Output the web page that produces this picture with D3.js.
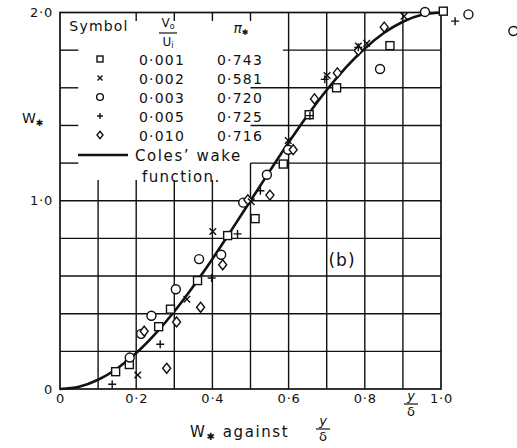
<!DOCTYPE html>
<html>
<head>
<meta charset="utf-8">
<script src="https://cdn.jsdelivr.net/npm/d3@7"></script>
<style>
  html, body { margin: 0; padding: 0; background: #fff; }
  svg { display: block; font-family: "DejaVu Sans", sans-serif; }
</style>
</head>
<body>
<svg id="chart" width="517" height="448"></svg>
<script>
// Axis ticks
const xTickValues = [0, 0.2, 0.4, 0.6, 0.8, 1.0];
const xTickLabels = ["0", "0·2", "0·4", "0·6", "0·8", "1·0"];
const yTickValues = [0, 1, 2];
const yTickLabels = ["0", "1·0", "2·0"];
const xGrid = [0.1, 0.2, 0.3, 0.4, 0.5, 0.6, 0.7, 0.8, 0.9];
const yGrid = [0.2, 0.4, 0.6, 0.8, 1.0, 1.2, 1.4, 1.6, 1.8];

// Measured points, [y/δ, W*]
const sq001 = [[0.146,0.092],[0.182,0.130],[0.259,0.331],[0.290,0.424],[0.361,0.576],[0.440,0.815],
               [0.512,0.905],[0.586,1.195],[0.654,1.457],[0.726,1.600],[0.866,1.824],[1.006,2.007]];
const cross002 = [[0.204,0.074],[0.333,0.477],[0.401,0.837],[0.502,0.995],[0.599,1.320],[0.701,1.665],
                  [0.783,1.822],[0.805,1.836],[0.903,1.980]];
const circ003 = [[0.183,0.167],[0.213,0.293],[0.240,0.389],[0.304,0.530],[0.365,0.690],[0.423,0.713],
                 [0.481,0.990],[0.543,1.138],[0.599,1.271],[0.840,1.700],[0.958,2.003],[1.072,1.990],[1.190,1.902]];
const plus005 = [[0.137,0.025],[0.263,0.238],[0.398,0.590],[0.466,0.824],[0.526,1.053],[0.656,1.452],
                 [0.695,1.645],[0.783,1.815],[1.037,1.954]];
const diam010 = [[0.280,0.110],[0.221,0.307],[0.306,0.356],[0.369,0.434],[0.427,0.660],[0.493,1.005],
                 [0.551,1.030],[0.612,1.271],[0.668,1.541],[0.728,1.679],[0.783,1.798],[0.851,1.922]];

// Coles' wake function, tabulated
const wakeEta = [0,0.05,0.1,0.15,0.2,0.25,0.3,0.35,0.4,0.45,0.5,0.55,0.6,0.65,0.7,0.75,0.8,0.85,0.9,0.95,1.0];
const wakeW   = [0,0.012,0.049,0.109,0.191,0.293,0.412,0.546,0.691,0.844,1.0,1.156,1.309,1.454,1.588,1.707,1.809,1.891,1.951,1.988,2.0];

// Legend table
const legendSymbols = ["square", "cross", "circle", "plus", "diamond"];
const legendV = ["0·001", "0·002", "0·003", "0·005", "0·010"];
const legendPi = ["0·743", "0·581", "0·720", "0·725", "0·716"];

const svg = d3.select("#chart");
const x = d3.scaleLinear().domain([0, 1]).range([60, 441]);
const y = d3.scaleLinear().domain([0, 2]).range([389, 12.5]);
const ink = "#111";

// Grid: cells behind the legend table are left blank, with short stubs at the edges
const grid = svg.append("g").attr("stroke", ink).attr("stroke-width", 1.4).attr("fill", "none");
xGrid.forEach(t => {
  let segs;
  if (t < 0.45) segs = [[0, 1.11]];
  else if (t < 0.55) segs = [[0, 1.2]];
  else segs = [[0, 2]];
  if (t > 0.15 && t < 0.55) segs.push([1.955, 2]);
  segs.forEach(s => grid.append("line")
    .attr("x1", x(t)).attr("x2", x(t)).attr("y1", y(s[0])).attr("y2", y(s[1])));
});
yGrid.forEach(t => {
  let segs;
  if (t < 1.1) segs = [[0, 1]];
  else if (t < 1.7) segs = [[0.5, 1], [0, 0.048]];
  else segs = [[0.585, 1], [0, 0.048]];
  segs.forEach(s => grid.append("line")
    .attr("x1", x(s[0])).attr("x2", x(s[1])).attr("y1", y(t)).attr("y2", y(t)));
});
grid.append("rect")
  .attr("x", x(0)).attr("y", y(2)).attr("width", x(1) - x(0)).attr("height", y(0) - y(2))
  .attr("stroke-width", 1.7);

// Axis labels
const xAxis = svg.append("g").attr("transform", `translate(0,${y(0)})`)
  .call(d3.axisBottom(x).tickValues(xTickValues).tickFormat((d, i) => xTickLabels[i]).tickSize(0).tickPadding(5));
const yAxis = svg.append("g").attr("transform", `translate(${x(0)},0)`)
  .call(d3.axisLeft(y).tickValues(yTickValues).tickFormat((d, i) => yTickLabels[i]).tickSize(0).tickPadding(7));
[xAxis, yAxis].forEach(a => {
  a.select(".domain").remove();
  a.selectAll("text").attr("font-size", 13).attr("letter-spacing", 0.8).attr("fill", ink)
    .attr("font-family", "DejaVu Sans, sans-serif");
});

// Wake function curve
const line = d3.line().x(d => x(d[0])).y(d => y(d[1])).curve(d3.curveMonotoneX);
svg.append("path").datum(wakeEta.map((e, i) => [e, wakeW[i]]))
  .attr("d", line).attr("fill", "none").attr("stroke", ink).attr("stroke-width", 2.6);

// Marker shapes
function marker(g, type, cx, cy, s) {
  const k = s || 1;
  if (type === "square") {
    g.append("rect").attr("x", cx - 4 * k).attr("y", cy - 4 * k).attr("width", 8 * k).attr("height", 8 * k)
      .attr("fill", "#fff").attr("stroke", ink).attr("stroke-width", 1.4);
  } else if (type === "circle") {
    g.append("circle").attr("cx", cx).attr("cy", cy).attr("r", 4.5 * k)
      .attr("fill", "#fff").attr("stroke", ink).attr("stroke-width", 1.4);
  } else if (type === "diamond") {
    const r = 5 * k;
    g.append("path").attr("d", `M${cx},${cy - r}L${cx + r * 0.8},${cy}L${cx},${cy + r}L${cx - r * 0.8},${cy}Z`)
      .attr("fill", "#fff").attr("stroke", ink).attr("stroke-width", 1.4);
  } else if (type === "cross") {
    const r = 3.3 * k;
    g.append("path").attr("d", `M${cx - r},${cy - r}L${cx + r},${cy + r}M${cx + r},${cy - r}L${cx - r},${cy + r}`)
      .attr("fill", "none").attr("stroke", ink).attr("stroke-width", 1.4);
  } else if (type === "plus") {
    const r = 4 * k;
    g.append("path").attr("d", `M${cx - r},${cy}L${cx + r},${cy}M${cx},${cy - r}L${cx},${cy + r}`)
      .attr("fill", "none").attr("stroke", ink).attr("stroke-width", 1.4);
  }
}

const pts = svg.append("g");
[[sq001, "square"], [circ003, "circle"], [diam010, "diamond"], [cross002, "cross"], [plus005, "plus"]]
  .forEach(([data, type]) => data.forEach(d => marker(pts, type, x(d[0]), y(d[1]))));

// Legend table
const lg = svg.append("g").attr("fill", ink).attr("font-size", 14).attr("letter-spacing", 1.2);
lg.append("text").attr("x", 99).attr("y", 31).attr("text-anchor", "middle").text("Symbol");
const v0 = lg.append("text").attr("x", 168).attr("y", 27).attr("text-anchor", "middle").attr("font-size", 12)
  .attr("letter-spacing", 0);
v0.append("tspan").text("V");
v0.append("tspan").attr("font-size", 8).attr("dy", 2).text("o");
lg.append("line").attr("x1", 159).attr("x2", 177).attr("y1", 33).attr("y2", 33).attr("stroke", ink).attr("stroke-width", 1.2);
const u1 = lg.append("text").attr("x", 168).attr("y", 46).attr("text-anchor", "middle").attr("font-size", 12)
  .attr("letter-spacing", 0);
u1.append("tspan").text("U");
u1.append("tspan").attr("font-size", 8).attr("dy", 2).text("i");
const pi = lg.append("text").attr("x", 241).attr("y", 33).attr("text-anchor", "middle").attr("font-style", "italic")
  .attr("letter-spacing", 0);
pi.append("tspan").text("π");
pi.append("tspan").attr("font-size", 8).attr("dy", 2).text("✱");

const rowY = [60, 79, 98, 117, 136];
legendSymbols.forEach((s, i) => {
  marker(lg, s, 100, rowY[i] - 1, 0.75);
  lg.append("text").attr("x", 162).attr("y", rowY[i] + 5).attr("text-anchor", "middle").text(legendV[i]);
  lg.append("text").attr("x", 240).attr("y", rowY[i] + 5).attr("text-anchor", "middle").text(legendPi[i]);
});
lg.append("line").attr("x1", 78).attr("x2", 128).attr("y1", 155).attr("y2", 155)
  .attr("stroke", ink).attr("stroke-width", 2.6);
lg.append("text").attr("x", 135).attr("y", 161).attr("font-size", 15).attr("letter-spacing", 1.6).text("Coles’ wake");
lg.append("text").attr("x", 142).attr("y", 182).attr("font-size", 15).attr("letter-spacing", 1.4).text("function.");

// Axis titles
const W = svg.append("text").attr("x", 22).attr("y", 123).attr("font-size", 14).attr("fill", ink);
W.append("tspan").text("W");
W.append("tspan").attr("font-size", 9).attr("dy", 3).text("✱");

function yOverDelta(cx, cy) {
  svg.append("text").attr("x", cx).attr("y", cy).attr("text-anchor", "middle").attr("font-size", 13)
    .attr("font-style", "italic").attr("fill", ink).text("y");
  svg.append("line").attr("x1", cx - 7).attr("x2", cx + 7).attr("y1", cy + 4).attr("y2", cy + 4)
    .attr("stroke", ink).attr("stroke-width", 1.2);
  svg.append("text").attr("x", cx).attr("y", cy + 16).attr("text-anchor", "middle").attr("font-size", 13)
    .attr("fill", ink).text("δ");
}
yOverDelta(411, 400);

const title = svg.append("text").attr("x", 190).attr("y", 437).attr("font-size", 15).attr("fill", ink)
  .attr("letter-spacing", 1.6);
title.append("tspan").text("W");
title.append("tspan").attr("font-size", 10).attr("dy", 3).text("✱");
title.append("tspan").attr("dy", -3).text(" against");
yOverDelta(323, 425);

svg.append("text").attr("x", 342).attr("y", 266).attr("text-anchor", "middle").attr("font-size", 17)
  .attr("letter-spacing", 1).attr("fill", ink).text("(b)");
</script>
</body>
</html>
